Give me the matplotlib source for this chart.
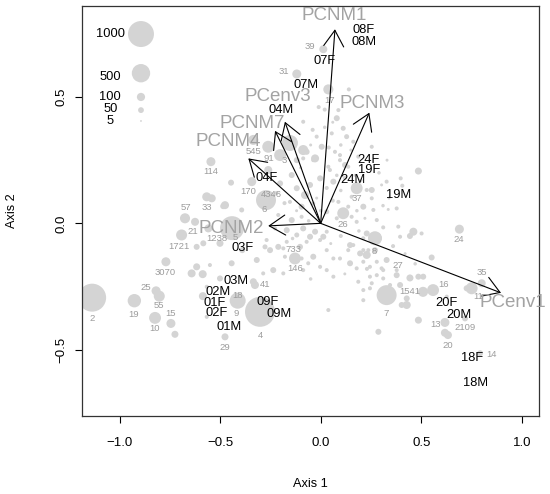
import matplotlib
matplotlib.use("Agg")
import matplotlib.pyplot as plt

plt.rcParams['font.family'] = ['Liberation Sans', 'DejaVu Sans']

# ---- data ---------------------------------------------------------------
# OTU points (axis 1, axis 2, abundance)
pt_x = [-1.137, -0.927, -0.819, -0.803, -0.824, -0.745, -0.725, -0.476, -0.302, -0.413,
        0.328, 0.509, 0.559, 0.444, 0.751, 0.801, 0.618, 0.618, 0.633, 0.793,
        0.690, 0.270, 0.112, 0.179, -0.272, -0.343, -0.675, -0.567, -0.542, -0.625,
        -0.692, -0.584, -0.546, -0.770, -0.327, -0.128, 0.013, -0.119, 0.038, -0.441,
        -0.335, -0.261, -0.202, -0.153, 0.718, -0.567, -0.586,
        0.14, -0.01, 0.02, 0.088, 0.112, 0.080, -0.087, 0.055, 0.129, 0.162,
        -0.020, 0.005, -0.070, 0.071, 0.187, -0.037, 0.096, 0.254, 0.137, 0.038,
        -0.119, -0.087, -0.028, -0.087, 0.096, 0.121, 0.046, 0.063, -0.003, -0.053,
        -0.078, -0.119, -0.153, -0.095, -0.037, 0.030, 0.088, 0.137, 0.154, 0.229,
        0.254, 0.212, 0.154, 0.179, 0.030, -0.028, -0.087, -0.119, -0.070, -0.003,
        -0.169, -0.169, -0.144, -0.095, -0.211, -0.227, -0.277, -0.186, 0.212, 0.162,
        0.237, -0.144, -0.202, -0.476, 0.486, 0.398, 0.328, 0.303, 0.406, 0.254,
        0.378, 0.336, 0.262, 0.279, 0.311, 0.386, 0.461, 0.444, 0.502, 0.395,
        0.262, 0.552, 0.510, 0.428, 0.403, 0.229, 0.196, 0.137, 0.096, 0.030,
        -0.053, -0.037, -0.103, -0.252, -0.318, -0.286, -0.186, -0.087, -0.003, 0.063,
        0.146, 0.328, 0.378, 0.311, 0.245, 0.187, 0.013, 0.146, 0.212, 0.279,
        0.229, 0.270, 0.212, 0.245, 0.279, 0.303, 0.179, 0.063, 0.030, -0.062,
        -0.095, 0.279, 0.311, 0.378, 0.486, 0.395, 0.345, 0.254, 0.212, 0.212,
        0.038, 0.287, 0.486, 0.428, 0.726, 0.245, 0.627, -0.446, -0.485, -0.393,
        -0.559, -0.501, -0.617, -0.390, -0.443, -0.551, -0.617, -0.642, -0.587, -0.501,
        -0.567, -0.335, -0.236, -0.178, -0.211, -0.269, -0.261]
pt_y = [-0.294, -0.306, -0.267, -0.288, -0.374, -0.396, -0.439, -0.449, -0.350, -0.306,
        -0.284, -0.271, -0.264, -0.216, -0.257, -0.237, -0.392, -0.433, -0.442, -0.514,
        -0.023, -0.059, 0.040, 0.139, 0.092, 0.165, 0.020, 0.105, 0.099, 0.006,
        -0.046, -0.079, 0.244, -0.152, -0.244, -0.139, 0.689, 0.591, 0.530, -0.019,
        0.330, 0.303, 0.270, 0.318, -0.376, -0.370, -0.288,
        0.53, 0.46, 0.45, 0.448, 0.376, 0.416, 0.402, 0.356, 0.343, 0.323,
        0.343, 0.303, 0.283, 0.283, 0.264, 0.250, 0.250, 0.303, 0.224, 0.224,
        0.250, 0.290, 0.257, 0.257, 0.270, 0.231, 0.211, 0.165, 0.178, 0.152,
        0.112, 0.139, 0.085, 0.066, 0.079, 0.046, 0.085, 0.066, 0.105, 0.132,
        0.099, 0.066, 0.026, 0.006, -0.033, -0.033, -0.020, -0.046, -0.073, -0.066,
        -0.073, -0.027, 0.013, 0.026, 0.033, -0.020, -0.093, -0.099, -0.059, -0.086,
        -0.106, 0.191, 0.158, 0.072, 0.207, 0.178, 0.165, 0.152, 0.149, 0.132,
        0.059, 0.055, 0.053, 0.013, -0.016, -0.013, -0.033, -0.050, -0.040, -0.053,
        -0.073, -0.135, -0.211, -0.297, -0.323, -0.040, -0.119, -0.106, -0.139, -0.106,
        -0.053, -0.132, -0.093, -0.106, -0.145, -0.198, -0.198, -0.185, -0.172, -0.211,
        -0.158, -0.145, -0.185, -0.185, -0.211, -0.231, -0.053, -0.086, -0.106, -0.059,
        -0.125, -0.106, -0.152, -0.172, -0.152, -0.178, -0.178, -0.139, -0.185, -0.158,
        -0.139, -0.205, -0.218, -0.205, -0.211, -0.244, -0.244, -0.237, -0.264, -0.304,
        -0.343, -0.429, -0.383, -0.323, -0.257, -0.257, -0.290, 0.161, 0.068, 0.053,
        -0.020, -0.079, -0.093, -0.106, -0.158, -0.165, -0.172, -0.198, -0.201, -0.218,
        -0.251, -0.231, -0.185, -0.132, -0.093, -0.066, 0.211]
pt_n = [1160, 265, 120, 180, 210, 120, 73, 73, 1330, 380,
        590, 150, 210, 73, 210, 95, 120, 95, 95, 53,
        120, 290, 210, 210, 590, 120, 150, 120, 95, 95,
        180, 53, 120, 120, 95, 210, 95, 120, 150, 850,
        150, 210, 210, 380, 53, 24, 95,
        24, 24, 24, 24, 37, 53, 24, 24, 37, 24,
        24, 53, 53, 24, 24, 24, 24, 24, 24, 24,
        53, 150, 95, 24, 24, 53, 24, 53, 53, 53,
        95, 53, 24, 53, 24, 37, 24, 24, 24, 24,
        24, 53, 24, 24, 24, 53, 53, 37, 24, 24,
        24, 53, 53, 24, 24, 24, 37, 24, 24, 24,
        24, 53, 53, 95, 73, 24, 24, 13, 24, 53,
        24, 13, 24, 24, 24, 24, 95, 53, 24, 24,
        53, 53, 53, 53, 53, 53, 53, 24, 24, 24,
        53, 53, 53, 53, 53, 24, 24, 24, 24, 24,
        53, 53, 24, 24, 24, 24, 53, 53, 24, 150,
        95, 53, 24, 24, 24, 24, 24, 24, 24, 24,
        24, 24, 24, 53, 53, 53, 24, 24, 24, 24,
        24, 53, 73, 95, 53, 24, 24, 53, 53, 37,
        95, 73, 53, 53, 53, 24, 73, 95, 95, 53,
        24, 73, 53, 24, 53, 24, 95]

# extra small OTUs in the dense centre of the cloud
sm_x = [0.02, 0.06, -0.04, 0.10, 0.15, 0.04, -0.05, 0.08, 0.12, 0.17,
        0.20, 0.03, 0.10, -0.02, 0.06, 0.18, 0.22, 0.08, -0.06, -0.12,
        -0.18, -0.14, 0.05, 0.10, 0.19, 0.34, 0.31, 0.36, 0.42, 0.47,
        0.33, 0.29, -0.22, -0.10, 0.00, 0.23, 0.12, -0.05, 0.35]
sm_y = [0.38, 0.40, 0.37, 0.31, 0.29, 0.30, 0.31, 0.19, 0.18, 0.19,
        0.17, 0.14, 0.13, 0.10, 0.09, 0.05, 0.02, 0.02, 0.01, 0.05,
        0.08, -0.06, -0.08, -0.05, -0.03, 0.10, 0.07, -0.09, -0.12, -0.16,
        0.25, 0.20, 0.12, 0.22, 0.05, -0.18, -0.20, -0.22, -0.30]
sm_n = [18, 13, 24, 18, 13, 24, 13, 18, 24, 13,
        18, 24, 18, 13, 24, 18, 13, 24, 18, 13,
        24, 18, 13, 24, 18, 13, 18, 24, 13, 18,
        13, 18, 24, 13, 18, 24, 13, 18, 13]

# grey OTU id labels
num_txt = ['39', '31', '17', '545', '91', '3', '114', '170', '4346', '6',
           '57', '33', '21', '1238', '5', '1721', '733', '146', '3070', '26',
           '37', '8', '27', '24', '35', '16', '1541', '11', '7', '13',
           '2109', '20', '14', '41', '18', '9', '4', '29', '25', '55',
           '19', '15', '10', '2']
num_x = [-0.053, -0.183, 0.046, -0.332, -0.256, -0.183, -0.547, -0.360, -0.244, -0.282,
         -0.670, -0.567, -0.634, -0.517, -0.423, -0.703, -0.136, -0.128, -0.775, 0.112,
         0.182, 0.267, 0.383, 0.688, 0.801, 0.610, 0.444, 0.784, 0.325, 0.569,
         0.718, 0.632, 0.851, -0.277, -0.413, -0.418, -0.302, -0.476, -0.869, -0.804,
         -0.929, -0.746, -0.828, -1.139]
num_y = [0.699, 0.600, 0.488, 0.283, 0.257, 0.250, 0.204, 0.125, 0.115, 0.055,
         0.062, 0.062, -0.033, -0.059, -0.055, -0.090, -0.103, -0.178, -0.195, -0.003,
         0.099, -0.112, -0.168, -0.063, -0.195, -0.241, -0.271, -0.290, -0.356, -0.402,
         -0.413, -0.484, -0.517, -0.241, -0.287, -0.356, -0.442, -0.491, -0.253, -0.326,
         -0.359, -0.356, -0.416, -0.376]

# sample (site) labels
site_txt = ['08F', '08M', '07F', '07M', '04M', '04F', '24F', '19F', '24M', '19M',
            '03F', '03M', '02M', '01F', '02F', '01M', '09F', '09M', '20F', '20M',
            '18F', '18M']
site_x = [0.215, 0.215, 0.021, -0.073, -0.198, -0.269, 0.240, 0.240, 0.162, 0.386,
          -0.388, -0.423, -0.509, -0.526, -0.517, -0.455, -0.266, -0.207, 0.627, 0.688,
          0.751, 0.768]
site_y = [0.765, 0.719, 0.642, 0.547, 0.448, 0.178, 0.250, 0.211, 0.171, 0.112,
          -0.097, -0.228, -0.271, -0.317, -0.356, -0.409, -0.310, -0.360, -0.317, -0.363,
          -0.534, -0.631]

# fitted vectors
vec_txt = ['PCNM1', 'PCNM3', 'PCenv3', 'PCNM7', 'PCNM4', 'PCNM2', 'PCenv1']
vec_x = [0.071, 0.242, -0.178, -0.227, -0.360, -0.261, 0.897]
vec_y = [0.768, 0.438, 0.402, 0.366, 0.257, -0.010, -0.275]
vec_lx = [0.065, 0.258, -0.212, -0.339, -0.460, -0.443, 0.957]
vec_ly = [0.824, 0.475, 0.501, 0.396, 0.323, -0.020, -0.315]

# size legend
leg_n = [1000, 500, 100, 50, 5]
leg_y = [0.749, 0.594, 0.500, 0.448, 0.405]
leg_ty = [0.749, 0.578, 0.501, 0.452, 0.405]
leg_x = -0.894
leg_tx = -1.047

# ---- plot ---------------------------------------------------------------
pt_col = '#d4d4d4'
txt_grey = '#9c9c9c'
scale = 0.35

fig = plt.figure(figsize=(5.5, 4.94), dpi=100)
ax = fig.add_axes([0.1496, 0.1585, 0.8304, 0.8294])
ax.set_xlim(-1.186, 1.086)
ax.set_ylim(-0.761, 0.860)

ax.scatter(pt_x + sm_x, pt_y + sm_y, s=[scale * n for n in pt_n + sm_n],
           c=pt_col, linewidths=0, zorder=1)

for t, x, y in zip(num_txt, num_x, num_y):
    ax.text(x, y, t, color=txt_grey, fontsize=6.8, ha='center', va='center', zorder=2)

for t, x, y, lx, ly in zip(vec_txt, vec_x, vec_y, vec_lx, vec_ly):
    ax.annotate('', xy=(x, y), xytext=(0, 0),
                arrowprops=dict(arrowstyle='->, head_length=1.15, head_width=0.72',
                                mutation_scale=10, lw=0.8, color='black',
                                shrinkA=0, shrinkB=0), zorder=3)
    ax.text(lx, ly, t, color='#a3a3a3', fontsize=13.5, ha='center', va='center',
            zorder=4, clip_on=False)

for t, x, y in zip(site_txt, site_x, site_y):
    ax.text(x, y, t, color='black', fontsize=9.3, ha='center', va='center', zorder=5)

ax.scatter([leg_x] * len(leg_n), leg_y, s=[scale * n for n in leg_n], c=pt_col,
           linewidths=0, zorder=1)
for n, y in zip(leg_n, leg_ty):
    ax.text(leg_tx, y, str(n), color='black', fontsize=9.3, ha='center', va='center')

ax.set_xticks([-1.0, -0.5, 0.0, 0.5, 1.0])
ax.set_yticks([-0.5, 0.0, 0.5])
ax.tick_params(direction='out', length=5, width=0.8, labelsize=9.5, colors='black')
ax.tick_params(axis='x', pad=10.5)
ax.tick_params(axis='y', pad=6)
for lab in ax.get_yticklabels():
    lab.set_rotation(90)
    lab.set_va('center')
for sp in ax.spines.values():
    sp.set_linewidth(0.9)
    sp.set_color('#333333')

ax.set_xlabel('Axis 1', fontsize=9.2, labelpad=21)
ax.set_ylabel('Axis 2', fontsize=9.2, labelpad=27)

fig.savefig('out.png', dpi=100)
